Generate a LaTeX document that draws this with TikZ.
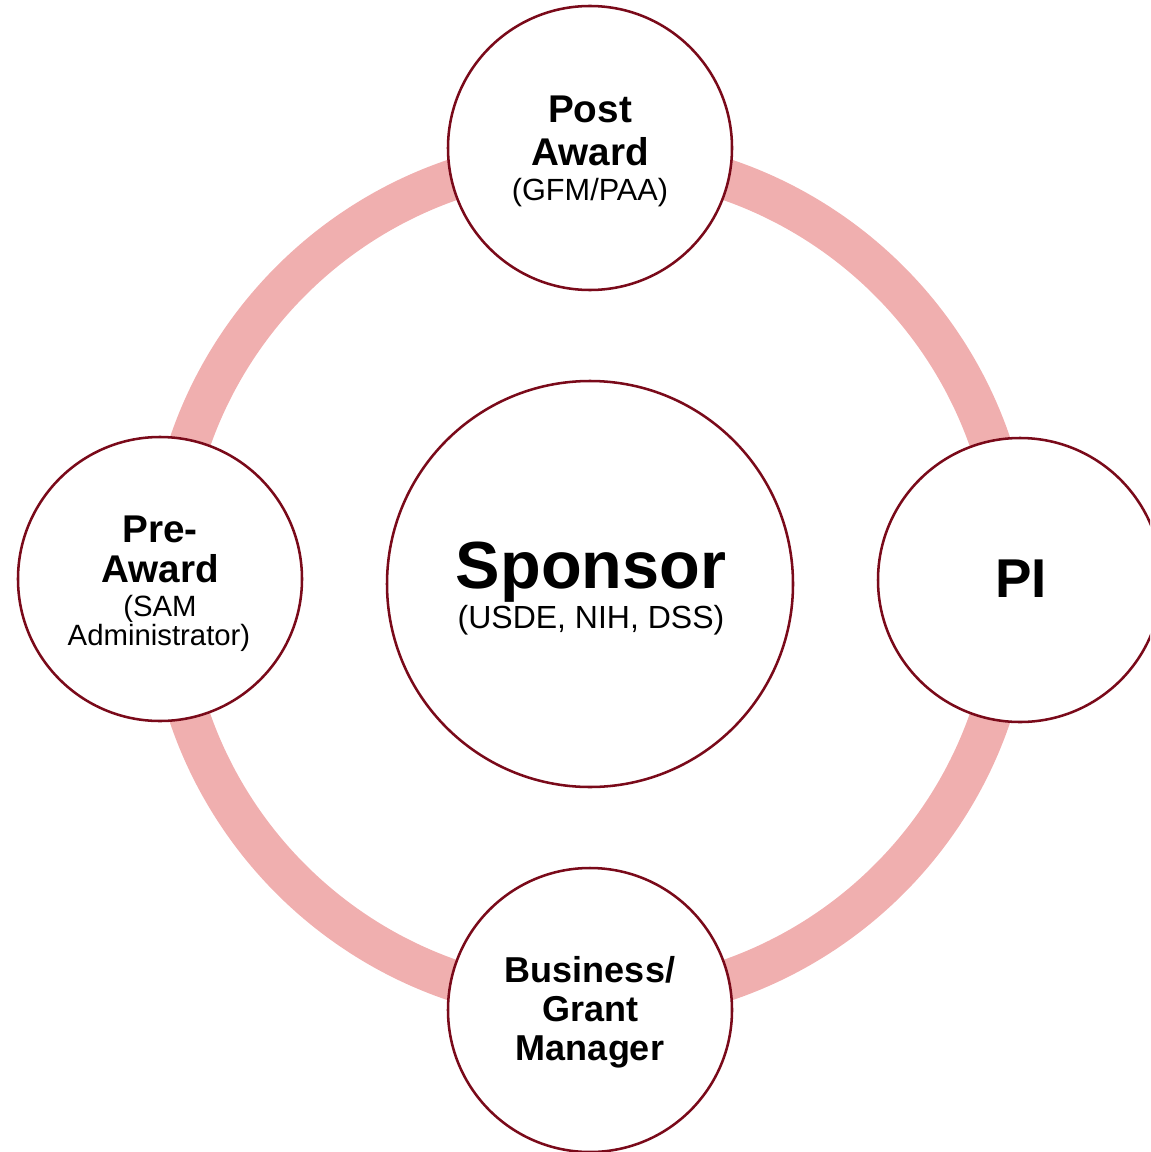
\documentclass[tikz,border=0pt]{standalone}
\usepackage{fontspec}
\setmainfont{Liberation Sans}
\definecolor{ringpink}{HTML}{F0AFAF}
\definecolor{rimred}{HTML}{7A0A1A}
\begin{document}
\begin{tikzpicture}[x=0.75pt,y=-0.75pt,
  ring/.style={draw=ringpink,line width=30.75pt},
  role/.style={circle,draw=rimred,line width=1.9pt,fill=white,inner sep=0pt,minimum size=213pt},
  hub/.style={circle,draw=rimred,line width=1.9pt,fill=white,inner sep=0pt,minimum size=304.5pt},
  lbl/.style={anchor=base,inner sep=0pt,font=\fontsize{29pt}{33pt}\selectfont\bfseries},
  sub/.style={anchor=base,inner sep=0pt,font=\fontsize{23pt}{26pt}\selectfont}]
\useasboundingbox (0,0) rectangle (1150,1152);
\clip (0,0) rectangle (1150,1152);
\coordinate (c) at (590,580);
\draw[ring] (c) circle[radius=317.25pt];
\node[role] (post) at (590,148) {};
\node[role] (pre) at (160,579) {};
\node[role] (pi) at (1020,580) {};
\node[role] (biz) at (590,1010) {};
\node[hub] (sponsor) at (590,584) {};
% Post Award
\node[lbl] (postA) at (590,123) {Post};
\node[lbl] (postB) at (590,166) {Award};
\node[sub] (postC) at (590,200) {(GFM/PAA)};
% Pre-Award
\node[lbl] (preA) at (160,542) {Pre-};
\node[lbl] (preB) at (160,582) {Award};
\node[sub,font=\fontsize{22pt}{26pt}\selectfont,text depth=0pt] (preC) at (160,616) {(SAM};
\node[sub,font=\fontsize{22pt}{26pt}\selectfont,text height=16pt] (preD) at (159,645) {Administrator)};
% Sponsor
\node[lbl,font=\fontsize{50pt}{56pt}\selectfont\bfseries] (spA) at (591,588) {Sponsor};
\node[sub,font=\fontsize{24pt}{28pt}\selectfont] (spB) at (591,628) {(USDE, NIH, DSS)};
% PI
\node[lbl,font=\fontsize{41pt}{46pt}\selectfont\bfseries] (piA) at (1021,597) {PI};
% Business
\node[lbl,font=\fontsize{27pt}{31pt}\selectfont\bfseries] (bizA) at (590,982) {Business/};
\node[lbl,font=\fontsize{27pt}{31pt}\selectfont\bfseries] (bizB) at (590,1021) {Grant};
\node[lbl,font=\fontsize{27pt}{31pt}\selectfont\bfseries] (bizC) at (590,1060) {Manager};
\end{tikzpicture}
\end{document}
